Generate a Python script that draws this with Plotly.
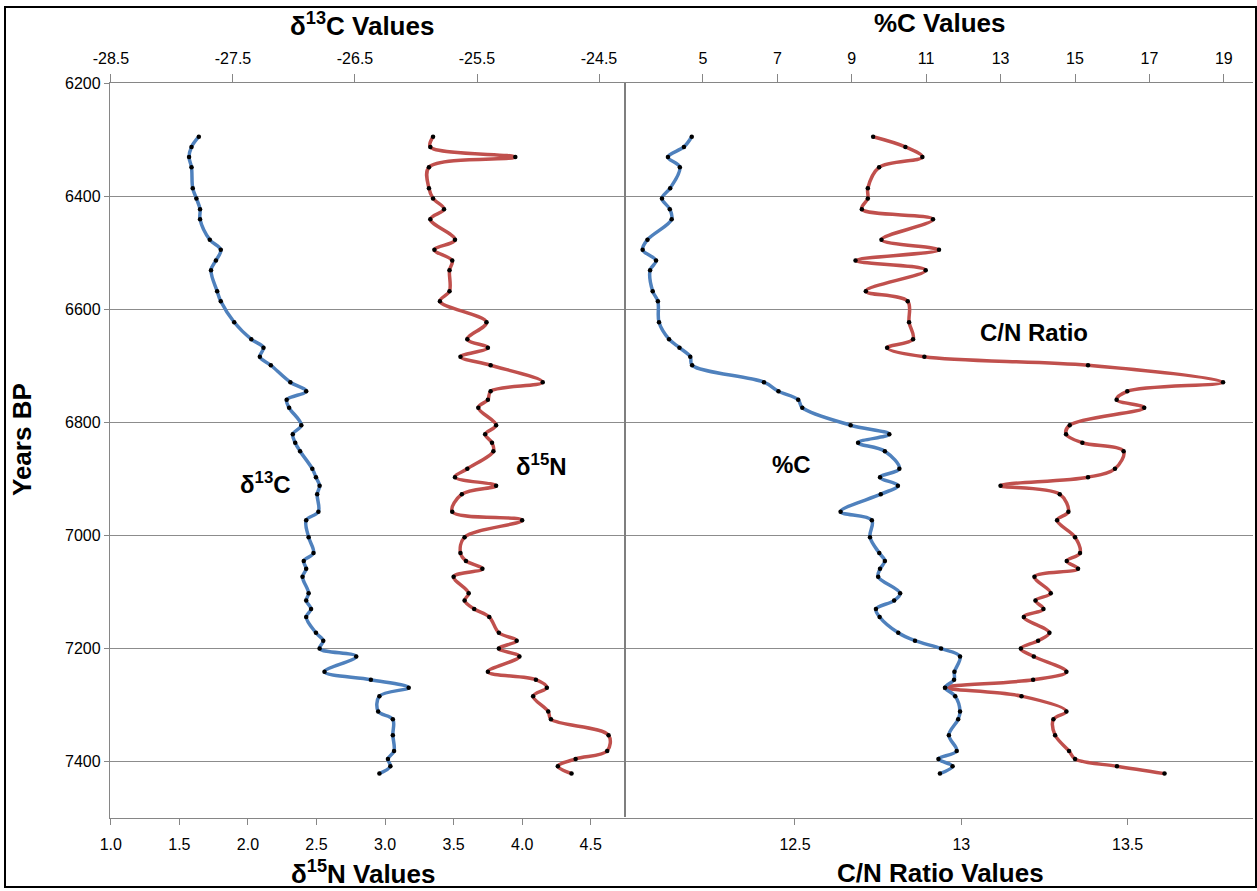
import plotly.graph_objects as go

# Sample ages (years BP) shared by all four records
years_bp = [6295, 6313, 6331, 6349, 6386, 6404, 6423, 6441, 6477, 6495,
            6514, 6531, 6568, 6586, 6623, 6653, 6668, 6684, 6699, 6729,
            6745, 6760, 6774, 6805, 6821, 6836, 6851, 6882, 6897, 6912,
            6927, 6958, 6973, 7003, 7031, 7045, 7059, 7073, 7102, 7115,
            7130, 7144, 7172, 7186, 7200, 7214, 7241, 7255, 7269, 7284,
            7311, 7325, 7353, 7381, 7395, 7408, 7421]

d13c = [-27.78, -27.84, -27.86, -27.84, -27.83, -27.80, -27.77, -27.77, -27.69, -27.60,
        -27.64, -27.68, -27.63, -27.60, -27.49, -27.35, -27.25, -27.28, -27.19, -27.03,
        -26.90, -27.06, -27.04, -26.94, -27.01, -26.99, -26.95, -26.85, -26.82, -26.79,
        -26.81, -26.80, -26.90, -26.88, -26.84, -26.92, -26.90, -26.93, -26.88, -26.90,
        -26.86, -26.90, -26.82, -26.76, -26.79, -26.49, -26.75, -26.37, -26.06, -26.30,
        -26.31, -26.19, -26.19, -26.18, -26.23, -26.21, -26.30]

d15n = [3.35, 3.33, 3.95, 3.32, 3.32, 3.35, 3.43, 3.33, 3.51, 3.36,
        3.49, 3.47, 3.47, 3.40, 3.74, 3.60, 3.75, 3.55, 3.77, 4.15,
        3.77, 3.75, 3.68, 3.81, 3.73, 3.78, 3.79, 3.60, 3.51, 3.81,
        3.56, 3.49, 4.00, 3.58, 3.55, 3.59, 3.71, 3.50, 3.61, 3.58,
        3.65, 3.76, 3.83, 3.96, 3.83, 3.98, 3.75, 4.10, 4.18, 4.08,
        4.19, 4.21, 4.63, 4.62, 4.39, 4.26, 4.36]

pct_c = [4.70, 4.49, 4.06, 4.38, 4.12, 3.90, 4.11, 4.16, 3.51, 3.38,
         3.74, 3.58, 3.65, 3.79, 3.82, 4.09, 4.37, 4.66, 4.71, 6.64,
         7.03, 7.56, 7.67, 8.97, 10.01, 9.17, 9.89, 10.28, 9.76, 10.24,
         9.78, 8.70, 9.54, 9.49, 9.74, 9.89, 9.76, 9.71, 10.30, 10.14,
         9.65, 9.75, 10.25, 10.70, 11.40, 11.91, 11.76, 11.75, 11.51, 11.78,
         11.91, 11.86, 11.61, 11.82, 11.33, 11.71, 11.37]

cn_ratio = [12.735, 12.832, 12.883, 12.753, 12.719, 12.719, 12.701, 12.915, 12.760, 12.933,
            12.682, 12.893, 12.713, 12.839, 12.843, 12.855, 12.777, 12.889, 13.381, 13.787,
            13.499, 13.467, 13.550, 13.326, 13.315, 13.364, 13.488, 13.462, 13.381, 13.118,
            13.296, 13.322, 13.288, 13.342, 13.357, 13.317, 13.351, 13.220, 13.269, 13.223,
            13.247, 13.188, 13.265, 13.231, 13.179, 13.218, 13.316, 13.216, 12.951, 13.181,
            13.316, 13.277, 13.282, 13.324, 13.342, 13.468, 13.611]

year_ticks = [6200, 6400, 6600, 6800, 7000, 7200, 7400]
d15n_ticks = [1.0, 1.5, 2.0, 2.5, 3.0, 3.5, 4.0, 4.5]
d13c_ticks = [-28.5, -27.5, -26.5, -25.5, -24.5]
d13c_labels = ["-28.5", "-27.5", "-26.5", "-25.5", "-24.5"]
pct_c_ticks = [5, 7, 9, 11, 13, 15, 17, 19]
cn_ticks = [12.5, 13, 13.5]
cn_labels = ["12.5", "13", "13.5"]

W, H = 1257, 891


def px(x):
    return x / W


def py(y):
    return 1 - y / H


BLUE = "#4F81BD"
RED = "#C0504D"
GRID = "#8C8C8C"
AXIS = "#868686"
TICK_FONT = dict(family="Liberation Sans, Arial, sans-serif", size=16, color="black")
TITLE_FONT = dict(family="Liberation Sans, Arial, sans-serif", size=26, color="black")
LABEL_FONT = dict(family="Liberation Sans, Arial, sans-serif", size=24, color="black")


def series(x, y, xa, ya, color):
    return go.Scatter(
        x=x, y=y, xaxis=xa, yaxis=ya, mode="lines+markers",
        line=dict(color=color, width=3.5, shape="spline", smoothing=1.0),
        marker=dict(color="black", size=4.5),
        showlegend=False, hoverinfo="skip",
    )


fig = go.Figure()
fig.add_trace(series(d13c, years_bp, "x2", "y", BLUE))
fig.add_trace(series(d15n, years_bp, "x", "y", RED))
fig.add_trace(series(pct_c, years_bp, "x4", "y2", BLUE))
fig.add_trace(series(cn_ratio, years_bp, "x3", "y2", RED))

y_dom = [py(818.3), py(83)]
left_dom = [px(110), px(625)]
right_dom = [px(625), px(1253)]

common_x = dict(showgrid=False, zeroline=False, showline=True, linecolor=AXIS,
                linewidth=1.3, ticks="outside", tickcolor=AXIS, tickwidth=1.3,
                tickfont=TICK_FONT, automargin=False)

fig.update_layout(
    width=W, height=H,
    margin=dict(l=0, r=0, t=0, b=0),
    paper_bgcolor="white", plot_bgcolor="white",
    xaxis=dict(domain=left_dom, anchor="y", side="bottom", range=[0.994, 4.75],
               tickvals=d15n_ticks, tickformat=".1f", ticklen=6,
               ticklabelstandoff=5, **common_x),
    xaxis2=dict(overlaying="x", anchor="y", side="top", range=[-28.508, -24.287],
                tickvals=d13c_ticks, ticktext=d13c_labels, ticklen=8,
                ticklabelstandoff=3, **common_x),
    xaxis3=dict(domain=right_dom, anchor="y2", side="bottom", range=[11.989, 13.877],
                tickvals=cn_ticks, ticktext=cn_labels, ticklen=6,
                ticklabelstandoff=5, **common_x),
    xaxis4=dict(overlaying="x3", anchor="y2", side="top", range=[2.906, 19.784],
                tickvals=pct_c_ticks, ticklen=8, ticklabelstandoff=3, **common_x),
    yaxis=dict(domain=y_dom, anchor="x", range=[7500, 6200], tickvals=year_ticks,
               showgrid=True, gridcolor=GRID, gridwidth=1.3, zeroline=False,
               showline=True, linecolor=AXIS, linewidth=1.3, ticks="outside",
               ticklen=5, tickcolor=AXIS, tickfont=TICK_FONT, automargin=False),
    yaxis2=dict(domain=y_dom, anchor="x3", matches="y", tickvals=year_ticks,
                showgrid=True, gridcolor=GRID, gridwidth=1.3, zeroline=False,
                showline=False, showticklabels=False, ticks="", automargin=False),
)

# Panel divider and outer frame
fig.add_shape(type="line", xref="paper", yref="paper",
              x0=px(625), x1=px(625), y0=py(817), y1=py(83),
              line=dict(color="#7F7F7F", width=2))
fig.add_shape(type="rect", xref="paper", yref="paper",
              x0=px(5), x1=px(1256), y0=py(887), y1=py(7),
              line=dict(color="black", width=2), fillcolor="rgba(0,0,0,0)")

annotations = [
    ("<b>δ<sup>13</sup>C Values</b>", 362, 25, 0, TITLE_FONT),
    ("<b>%C Values</b>", 940, 23, 0, TITLE_FONT),
    ("<b>δ<sup>15</sup>N Values</b>", 363, 872, 0, TITLE_FONT),
    ("<b>C/N Ratio Values</b>", 940, 873, 0, TITLE_FONT),
    ("<b>Years BP</b>", 22, 440, -90, TITLE_FONT),
    ("<b>δ<sup>13</sup>C</b>", 265, 483, 0, LABEL_FONT),
    ("<b>δ<sup>15</sup>N</b>", 541, 465, 0, LABEL_FONT),
    ("<b>%C</b>", 791, 465, 0, LABEL_FONT),
    ("<b>C/N Ratio</b>", 1034, 332, 0, LABEL_FONT),
]
for text, x, y, angle, font in annotations:
    fig.add_annotation(text=text, xref="paper", yref="paper", x=px(x), y=py(y),
                       xanchor="center", yanchor="middle", showarrow=False,
                       textangle=angle, font=font)

fig.write_html("out.html")
